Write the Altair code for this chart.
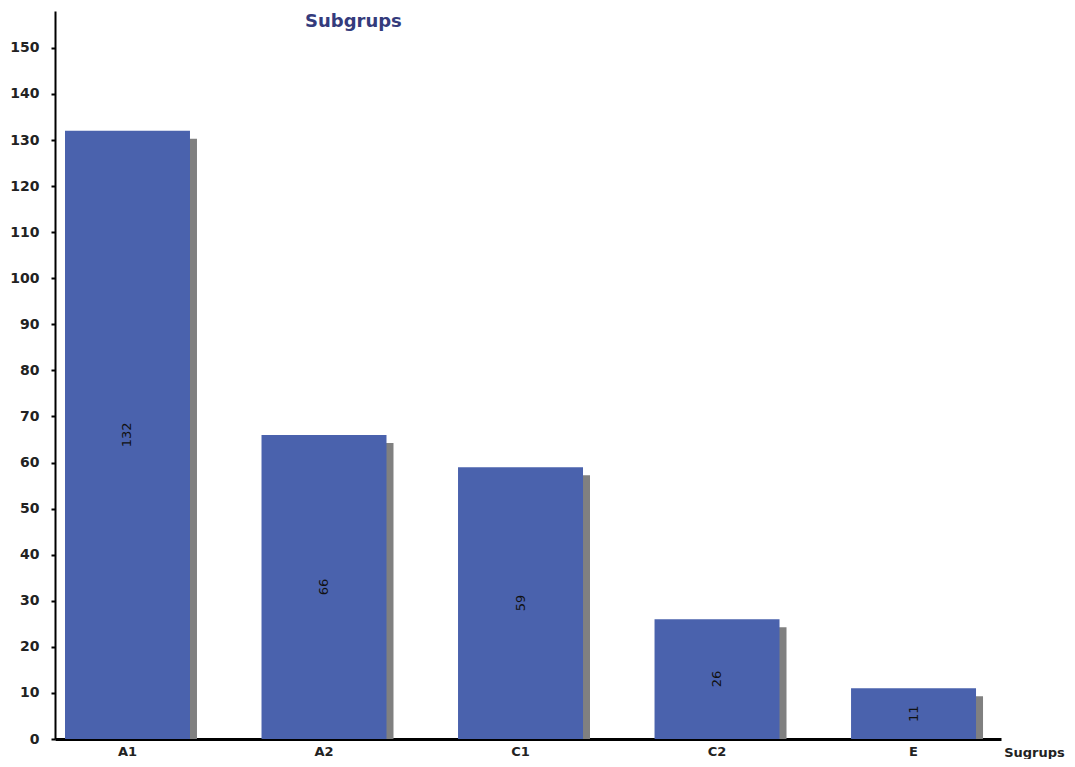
import altair as alt
import pandas as pd

categories = ["A1", "A2", "C1", "C2", "E"]
counts = [132, 66, 59, 26, 11]
y_ticks = [0, 10, 20, 30, 40, 50, 60, 70, 80, 90, 100, 110, 120, 130, 140, 150]

df = pd.DataFrame({"group": categories, "count": counts})

x_enc = alt.X(
    "group:N",
    sort=categories,
    scale=alt.Scale(paddingInner=0.364, paddingOuter=0.089, align=0.286),
    axis=alt.Axis(
        title="Sugrups",
        titleX=979, titleY=17, titleAlign="center", titleBaseline="alphabetic",
        titleFont="DejaVu Sans", titleFontSize=13, titleFontWeight="bold", titleColor="#222222",
        labelAngle=0, labelFont="DejaVu Sans", labelFontSize=13, labelFontWeight="bold",
        labelColor="#222222", labelPadding=6, ticks=False,
        domainColor="#000000", domainWidth=3,
    ),
)
y_scale = alt.Scale(domain=[0, 158], nice=False)

shadow = alt.Chart(df).mark_bar(color="#808080", xOffset=7, yOffset=8, clip=True).encode(
    x=x_enc,
    y=alt.Y("count:Q", scale=y_scale),
)

bars = alt.Chart(df).mark_bar(color="#4A62AD").encode(
    x=x_enc,
    y=alt.Y(
        "count:Q",
        scale=y_scale,
        axis=alt.Axis(
            values=y_ticks, title=None, grid=False,
            labelFont="DejaVu Sans", labelFontSize=14, labelFontWeight="bold",
            labelColor="#222222", labelPadding=12, tickSize=4, tickColor="#000000",
            tickWidth=2, domainColor="#000000", domainWidth=2,
        ),
    ),
)

labels = alt.Chart(df).transform_calculate(half="datum.count / 2").mark_text(
    angle=270, font="DejaVu Sans", fontSize=13, color="#111111",
    align="center", baseline="middle",
).encode(
    x=x_enc,
    y=alt.Y("half:Q", scale=y_scale),
    text="count:Q",
)

chart = (
    alt.layer(shadow, bars, labels)
    .properties(
        width=946,
        height=728,
        autosize=alt.AutoSizeParams(type="none"),
        padding={"left": 47, "top": 3, "right": 66, "bottom": 20},
        title=alt.TitleParams(
            "Subgrups", anchor="start", frame="group", dx=250, offset=-20,
            font="DejaVu Sans", fontSize=18, fontWeight="bold", color="#343B7C",
        ),
    )
    .configure_view(stroke=None)
)

chart.save("out.html", embed_options={"renderer": "svg", "actions": False})
